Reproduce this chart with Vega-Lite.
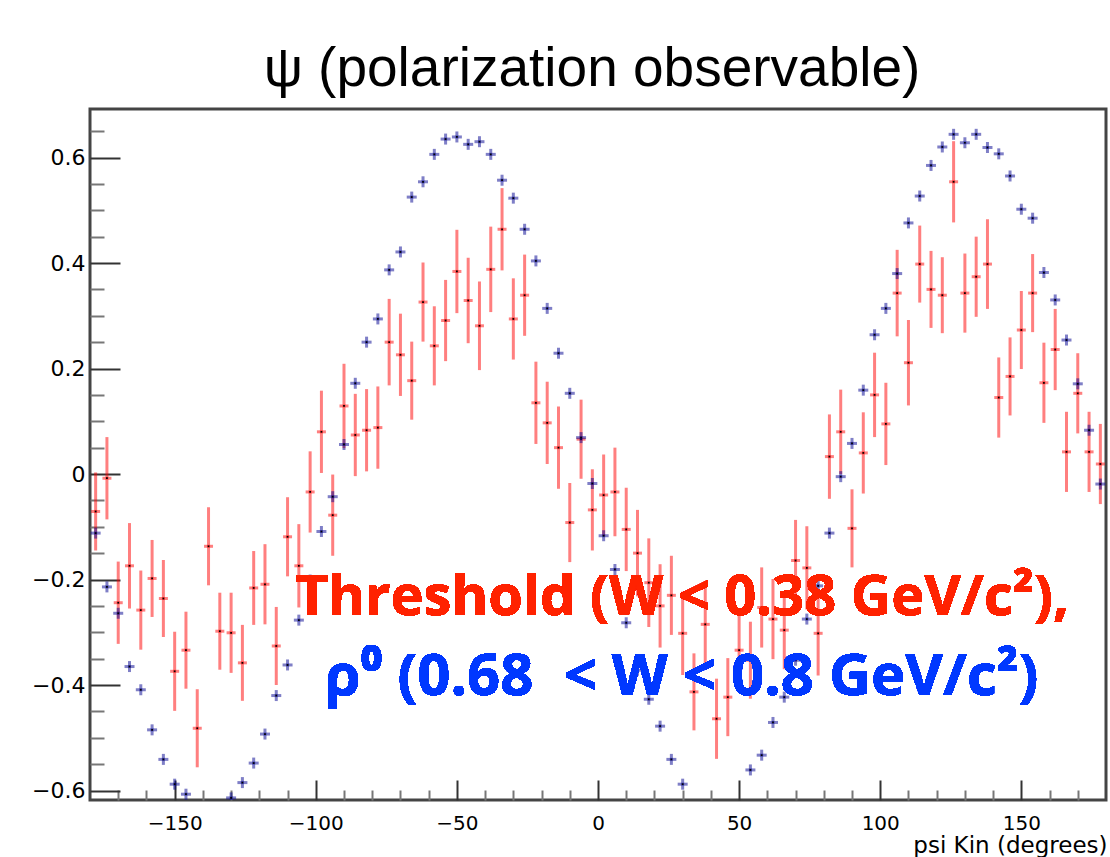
{
  "$schema": "https://vega.github.io/schema/vega-lite/v6.json",
  "width": 1016,
  "height": 691,
  "autosize": {"type": "none"},
  "padding": {"left": 90, "top": 109, "right": 4, "bottom": 57},
  "background": "white",
  "title": {"text": "ψ (polarization observable)", "font": "Liberation Sans", "fontSize": 55, "fontWeight": "normal", "color": "black", "anchor": "middle", "frame": "group", "baseline": "alphabetic", "offset": 21, "dx": -6, "dy": 53},
  "config": {"view": {"stroke": "#444", "strokeWidth": 3}, "axis": {"grid": false}},
  "data": {"values": [
    {"psi": -178, "red": -0.071, "rerr": 0.074, "blue": -0.112},
    {"psi": -174, "red": -0.008, "rerr": 0.078, "blue": -0.214},
    {"psi": -170, "red": -0.244, "rerr": 0.078, "blue": -0.264},
    {"psi": -166, "red": -0.174, "rerr": 0.081, "blue": -0.365},
    {"psi": -162, "red": -0.258, "rerr": 0.075, "blue": -0.409},
    {"psi": -158, "red": -0.198, "rerr": 0.073, "blue": -0.485},
    {"psi": -154, "red": -0.236, "rerr": 0.073, "blue": -0.541},
    {"psi": -150, "red": -0.374, "rerr": 0.075, "blue": -0.588},
    {"psi": -146, "red": -0.334, "rerr": 0.073, "blue": -0.607},
    {"psi": -142, "red": -0.482, "rerr": 0.074, "blue": -0.645},
    {"psi": -138, "red": -0.137, "rerr": 0.074, "blue": -0.66},
    {"psi": -134, "red": -0.298, "rerr": 0.073, "blue": -0.65},
    {"psi": -130, "red": -0.301, "rerr": 0.076, "blue": -0.614},
    {"psi": -126, "red": -0.358, "rerr": 0.072, "blue": -0.585},
    {"psi": -122, "red": -0.216, "rerr": 0.070, "blue": -0.548},
    {"psi": -118, "red": -0.209, "rerr": 0.076, "blue": -0.493},
    {"psi": -114, "red": -0.326, "rerr": 0.074, "blue": -0.420},
    {"psi": -110, "red": -0.119, "rerr": 0.075, "blue": -0.362},
    {"psi": -106, "red": -0.174, "rerr": 0.079, "blue": -0.277},
    {"psi": -102, "red": -0.034, "rerr": 0.077, "blue": -0.201},
    {"psi": -98, "red": 0.080, "rerr": 0.078, "blue": -0.109},
    {"psi": -94, "red": -0.078, "rerr": 0.077, "blue": -0.043},
    {"psi": -90, "red": 0.129, "rerr": 0.080, "blue": 0.056},
    {"psi": -86, "red": 0.074, "rerr": 0.078, "blue": 0.172},
    {"psi": -82, "red": 0.083, "rerr": 0.078, "blue": 0.250},
    {"psi": -78, "red": 0.088, "rerr": 0.078, "blue": 0.294},
    {"psi": -74, "red": 0.250, "rerr": 0.082, "blue": 0.387},
    {"psi": -70, "red": 0.226, "rerr": 0.078, "blue": 0.421},
    {"psi": -66, "red": 0.177, "rerr": 0.074, "blue": 0.525},
    {"psi": -62, "red": 0.326, "rerr": 0.075, "blue": 0.554},
    {"psi": -58, "red": 0.243, "rerr": 0.075, "blue": 0.606},
    {"psi": -54, "red": 0.291, "rerr": 0.077, "blue": 0.635},
    {"psi": -50, "red": 0.384, "rerr": 0.079, "blue": 0.639},
    {"psi": -46, "red": 0.329, "rerr": 0.081, "blue": 0.625},
    {"psi": -42, "red": 0.281, "rerr": 0.084, "blue": 0.630},
    {"psi": -38, "red": 0.388, "rerr": 0.081, "blue": 0.606},
    {"psi": -34, "red": 0.464, "rerr": 0.078, "blue": 0.557},
    {"psi": -30, "red": 0.294, "rerr": 0.077, "blue": 0.523},
    {"psi": -26, "red": 0.339, "rerr": 0.077, "blue": 0.464},
    {"psi": -22, "red": 0.135, "rerr": 0.078, "blue": 0.404},
    {"psi": -18, "red": 0.097, "rerr": 0.078, "blue": 0.314},
    {"psi": -14, "red": 0.050, "rerr": 0.078, "blue": 0.229},
    {"psi": -10, "red": -0.092, "rerr": 0.075, "blue": 0.153},
    {"psi": -6, "red": 0.066, "rerr": 0.075, "blue": 0.069},
    {"psi": -2, "red": -0.068, "rerr": 0.077, "blue": -0.018},
    {"psi": 2, "red": -0.040, "rerr": 0.077, "blue": -0.117},
    {"psi": 6, "red": -0.034, "rerr": 0.084, "blue": -0.181},
    {"psi": 10, "red": -0.105, "rerr": 0.079, "blue": -0.282},
    {"psi": 14, "red": -0.150, "rerr": 0.082, "blue": -0.372},
    {"psi": 18, "red": -0.206, "rerr": 0.084, "blue": -0.427},
    {"psi": 22, "red": -0.250, "rerr": 0.079, "blue": -0.478},
    {"psi": 26, "red": -0.230, "rerr": 0.075, "blue": -0.541},
    {"psi": 30, "red": -0.302, "rerr": 0.079, "blue": -0.588},
    {"psi": 34, "red": -0.413, "rerr": 0.073, "blue": -0.645},
    {"psi": 38, "red": -0.285, "rerr": 0.075, "blue": -0.66},
    {"psi": 42, "red": -0.464, "rerr": 0.076, "blue": -0.665},
    {"psi": 46, "red": -0.423, "rerr": 0.074, "blue": -0.655},
    {"psi": 50, "red": -0.334, "rerr": 0.077, "blue": -0.64},
    {"psi": 54, "red": -0.353, "rerr": 0.073, "blue": -0.561},
    {"psi": 58, "red": -0.253, "rerr": 0.076, "blue": -0.533},
    {"psi": 62, "red": -0.275, "rerr": 0.076, "blue": -0.471},
    {"psi": 66, "red": -0.296, "rerr": 0.074, "blue": -0.423},
    {"psi": 70, "red": -0.164, "rerr": 0.077, "blue": -0.353},
    {"psi": 74, "red": -0.178, "rerr": 0.079, "blue": -0.275},
    {"psi": 78, "red": -0.302, "rerr": 0.080, "blue": -0.212},
    {"psi": 82, "red": 0.033, "rerr": 0.080, "blue": -0.112},
    {"psi": 86, "red": 0.080, "rerr": 0.080, "blue": -0.005},
    {"psi": 90, "red": -0.103, "rerr": 0.074, "blue": 0.058},
    {"psi": 94, "red": 0.040, "rerr": 0.077, "blue": 0.159},
    {"psi": 98, "red": 0.150, "rerr": 0.080, "blue": 0.264},
    {"psi": 102, "red": 0.095, "rerr": 0.078, "blue": 0.314},
    {"psi": 106, "red": 0.343, "rerr": 0.082, "blue": 0.380},
    {"psi": 110, "red": 0.211, "rerr": 0.081, "blue": 0.476},
    {"psi": 114, "red": 0.398, "rerr": 0.073, "blue": 0.527},
    {"psi": 118, "red": 0.350, "rerr": 0.073, "blue": 0.585},
    {"psi": 122, "red": 0.339, "rerr": 0.072, "blue": 0.620},
    {"psi": 126, "red": 0.554, "rerr": 0.077, "blue": 0.644},
    {"psi": 130, "red": 0.343, "rerr": 0.075, "blue": 0.628},
    {"psi": 134, "red": 0.374, "rerr": 0.076, "blue": 0.644},
    {"psi": 138, "red": 0.398, "rerr": 0.085, "blue": 0.619},
    {"psi": 142, "red": 0.145, "rerr": 0.076, "blue": 0.607},
    {"psi": 146, "red": 0.185, "rerr": 0.074, "blue": 0.565},
    {"psi": 150, "red": 0.273, "rerr": 0.074, "blue": 0.502},
    {"psi": 154, "red": 0.343, "rerr": 0.074, "blue": 0.485},
    {"psi": 158, "red": 0.173, "rerr": 0.076, "blue": 0.382},
    {"psi": 162, "red": 0.236, "rerr": 0.077, "blue": 0.330},
    {"psi": 166, "red": 0.042, "rerr": 0.076, "blue": 0.254},
    {"psi": 170, "red": 0.153, "rerr": 0.076, "blue": 0.171},
    {"psi": 174, "red": 0.042, "rerr": 0.076, "blue": 0.083},
    {"psi": 178, "red": 0.019, "rerr": 0.076, "blue": -0.019}
  ]},
  "resolve": {"axis": {"x": "independent", "y": "independent"}},
  "layer": [
    {
      "mark": {"type": "errorbar", "ticks": false, "thickness": 3, "color": "#ff0000", "opacity": 0.5},
      "encoding": {
        "x": {"field": "psi", "type": "quantitative", "scale": {"domain": [-180, 180], "nice": false, "zero": false}, "axis": null},
        "y": {"field": "red", "type": "quantitative", "scale": {"domain": [-0.618, 0.692], "nice": false, "zero": false}, "axis": null},
        "yError": {"field": "rerr"}
      }
    },
    {
      "mark": {"type": "tick", "orient": "horizontal", "size": 9, "thickness": 3, "color": "#ff0000", "opacity": 0.5},
      "encoding": {
        "x": {"field": "psi", "type": "quantitative", "axis": {"orient": "bottom", "values": [-170, -160, -140, -130, -120, -110, -90, -80, -70, -60, -40, -30, -20, -10, 10, 20, 30, 40, 60, 70, 80, 90, 110, 120, 130, 140, 160, 170], "tickSize": -10, "tickWidth": 2, "tickColor": "#777", "labels": false, "domain": false, "title": null}},
        "y": {"field": "red", "type": "quantitative", "axis": {"orient": "left", "values": [-0.55, -0.5, -0.45, -0.35, -0.3, -0.25, -0.15, -0.1, -0.05, 0.05, 0.1, 0.15, 0.25, 0.3, 0.35, 0.45, 0.5, 0.55, 0.65], "tickSize": -14, "tickWidth": 2, "tickColor": "#777", "labels": false, "domain": false, "title": null}}
      }
    },
    {
      "mark": {"type": "square", "filled": true, "size": 3, "color": "black", "opacity": 1},
      "encoding": {
        "x": {"field": "psi", "type": "quantitative", "axis": null},
        "y": {"field": "red", "type": "quantitative", "axis": null}
      }
    },
    {
      "mark": {"type": "tick", "orient": "vertical", "size": 11, "thickness": 3, "color": "#000090", "opacity": 0.5, "clip": true},
      "encoding": {
        "x": {"field": "psi", "type": "quantitative", "axis": {"orient": "bottom", "values": [-150, -100, -50, 0, 50, 100, 150], "format": "d", "tickSize": -20, "tickWidth": 2, "tickColor": "#333", "labelPadding": 33, "labelFont": "DejaVu Sans", "labelFontSize": 20, "labelColor": "black", "domain": false, "title": "psi Kin (degrees)", "titleFont": "DejaVu Sans", "titleFontSize": 23, "titleFontWeight": "normal", "titleColor": "black", "titleAnchor": "end", "titleAlign": "right", "titleBaseline": "alphabetic", "titleX": 1017, "titleY": 52}},
        "y": {"field": "blue", "type": "quantitative", "axis": {"orient": "left", "values": [-0.6, -0.4, -0.2, 0, 0.2, 0.4, 0.6], "format": ".1~f", "tickSize": -30, "tickWidth": 2, "tickColor": "#333", "labelPadding": 35, "labelFont": "DejaVu Sans", "labelFontSize": 22, "labelColor": "black", "domain": false, "title": null}}
      }
    },
    {
      "mark": {"type": "tick", "orient": "horizontal", "size": 10, "thickness": 3, "color": "#000090", "opacity": 0.5, "clip": true},
      "encoding": {
        "x": {"field": "psi", "type": "quantitative", "axis": null},
        "y": {"field": "blue", "type": "quantitative", "axis": null}
      }
    },
    {
      "mark": {"type": "square", "filled": true, "size": 3, "color": "black", "opacity": 1, "clip": true},
      "encoding": {
        "x": {"field": "psi", "type": "quantitative", "axis": null},
        "y": {"field": "blue", "type": "quantitative", "axis": null}
      }
    },
    {
      "mark": {"type": "text", "text": "Threshold (W < 0.38 GeV/c²),", "font": "Open Sans", "fontWeight": "bold", "fontSize": 56, "color": "#ff2200", "align": "center", "baseline": "alphabetic"},
      "encoding": {
        "x": {"datum": 29.9, "type": "quantitative", "axis": null},
        "y": {"datum": -0.267, "type": "quantitative", "axis": null}
      }
    },
    {
      "mark": {"type": "text", "text": "ρ⁰ (0.68\u00a0\u00a0< W < 0.8 GeV/c²)", "font": "Open Sans", "fontWeight": "bold", "fontSize": 58, "color": "#0038ff", "align": "center", "baseline": "alphabetic"},
      "encoding": {
        "x": {"datum": 29.6, "type": "quantitative", "axis": null},
        "y": {"datum": -0.419, "type": "quantitative", "axis": null}
      }
    }
  ]
}
